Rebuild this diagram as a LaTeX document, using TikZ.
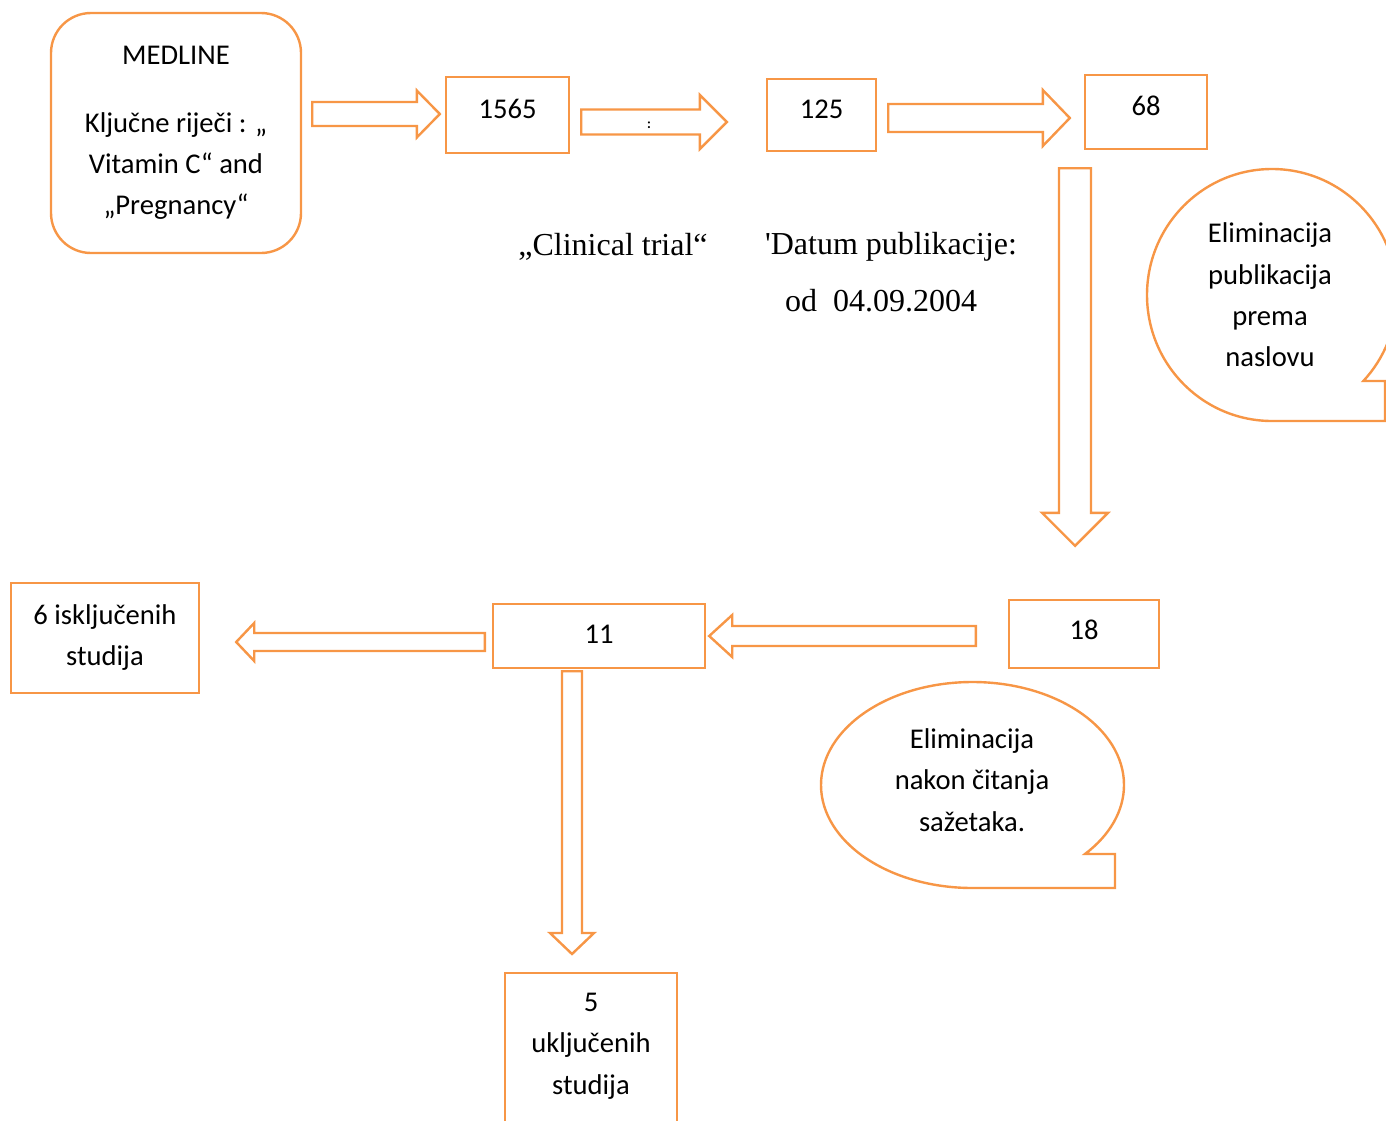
\documentclass[tikz,border=0pt]{standalone}
\usepackage{fontspec}
\setmainfont{Carlito}
\newfontfamily\timesfont{Liberation Serif}
\usetikzlibrary{calc}
\definecolor{flowor}{HTML}{F79646}
\tikzset{
  bx/.style={draw=flowor, line width=2.4pt, fill=white, align=center, inner sep=0pt, font=\fontsize{28.6}{41.4}\selectfont},
  num/.style={bx, text depth=12pt},
  txt/.style={align=center, font=\fontsize{28.6}{41.4}\selectfont},
  trm/.style={font=\timesfont\fontsize{32}{38}\selectfont},
  bub/.style={draw=flowor, line width=2.4pt, fill=white},
  barrow/.style n args={3}{draw=flowor, line width=2.4pt, fill=white,
    to path={($(\tikztostart)!#1!90:(\tikztotarget)$)
      -- ($(\tikztotarget)!#3!(\tikztostart)!#1!90:(\tikztotarget)$)
      -- ($(\tikztotarget)!#3!(\tikztostart)!#2!90:(\tikztotarget)$)
      -- (\tikztotarget)
      -- ($(\tikztotarget)!#3!(\tikztostart)!#2!-90:(\tikztotarget)$)
      -- ($(\tikztotarget)!#3!(\tikztostart)!#1!-90:(\tikztotarget)$)
      -- ($(\tikztostart)!#1!-90:(\tikztotarget)$) -- cycle}},
}
\begin{document}
\begin{tikzpicture}[x=1pt, y=-1pt]
  \useasboundingbox (0,0) rectangle (1386,1120);
  \clip (0,0) rectangle (1386,1120);
  % search boxes
  \node[bx, rounded corners=40pt, minimum width=250pt, minimum height=240pt] (medline) at (176,133)
    {MEDLINE\\[26pt]Ključne riječi : „\\Vitamin C“ and\\„Pregnancy“};
  \node[num, minimum width=123pt, minimum height=76pt] (n1565) at (507.5,115) {1565};
  \node[num, minimum width=109pt, minimum height=72pt] (n125) at (821.5,115) {125};
  \node[num, minimum width=122pt, minimum height=74pt] (n68) at (1146,112) {68};
  \node[num, text depth=8pt, minimum width=150pt, minimum height=68pt] (n18) at (1084,634) {18};
  \node[num, text depth=4pt, minimum width=212pt, minimum height=64pt] (n11) at (599,636) {11};
  \node[bx, text depth=6pt, minimum width=188pt, minimum height=110pt] (excl) at (105,638) {6 isključenih\\studija};
  \node[bx, minimum width=172pt, minimum height=170pt, anchor=north] (incl) at (591,972) {};
  \node[txt] (incltxt) at (591,1046) {5\\uključenih\\studija};
  % filters
  \node[trm] (clin) at (613,247) {„Clinical trial“};
  \node[trm] (datum) at (891,247) {\textquotesingle Datum publikacije:};
  \node[trm] (odd) at (881,301) {od\ \ 04.09.2004};
  % callouts
  \draw[bub] (1272,421) arc[start angle=270, end angle=-43, x radius=125pt, y radius=126pt]
    -- (1385,381) -- (1385,421) -- cycle;
  \node[txt] (elim1) at (1270,295) {Eliminacija\\publikacija\\prema\\naslovu};
  \draw[bub] (972.5,888) arc[start angle=270, end angle=-42, x radius=151.5pt, y radius=103pt]
    -- (1115,854) -- (1115,888) -- cycle;
  \node[txt] (elim2) at (972,780) {Eliminacija\\nakon čitanja\\sažetaka.};
  % arrow ends
  \coordinate (a1s) at ($(medline.east |- n1565.west)+(10,-1)$);
  \coordinate (a1e) at ($(n1565.west)+(-5,-1)$);
  \coordinate (a2s) at ($(n1565.east)+(11,7)$);
  \coordinate (a2e) at ($(n125.west)+(-39,7)$);
  \coordinate (a3s) at ($(n125.east)+(11,3)$);
  \coordinate (a3e) at ($(n68.west)+(-14,6)$);
  \coordinate (a4s) at ($(n68.south)+(-71,18)$);
  \coordinate (a4e) at ($(n18.north)+(-9,-53)$);
  \coordinate (a5s) at ($(n18.west)+(-32,2)$);
  \coordinate (a5e) at ($(n11.east)+(3,0)$);
  \coordinate (a6s) at ($(n11.west)+(-7,6)$);
  \coordinate (a6e) at ($(excl.east)+(36,4)$);
  \coordinate (a7s) at ($(n11.south)+(-27,2)$);
  \coordinate (a7e) at ($(incl.north)+(-19,-18)$);
  \foreach \s/\e/\sw/\hw/\hl in {a1s/a1e/12/23.5/23, a2s/a2e/12.5/27/27, a3s/a3e/14/28/27,
      a4s/a4e/16/33/33, a5s/a5e/10/21/23, a6s/a6e/9/19/18, a7s/a7e/10/22/21}
    \draw[barrow={\sw pt}{\hw pt}{\hl pt}] (\s) to (\e);
  \node[font=\bfseries\fontsize{14}{16}\selectfont, inner sep=0pt] (colon) at (649,125) {:};
\end{tikzpicture}
\end{document}
